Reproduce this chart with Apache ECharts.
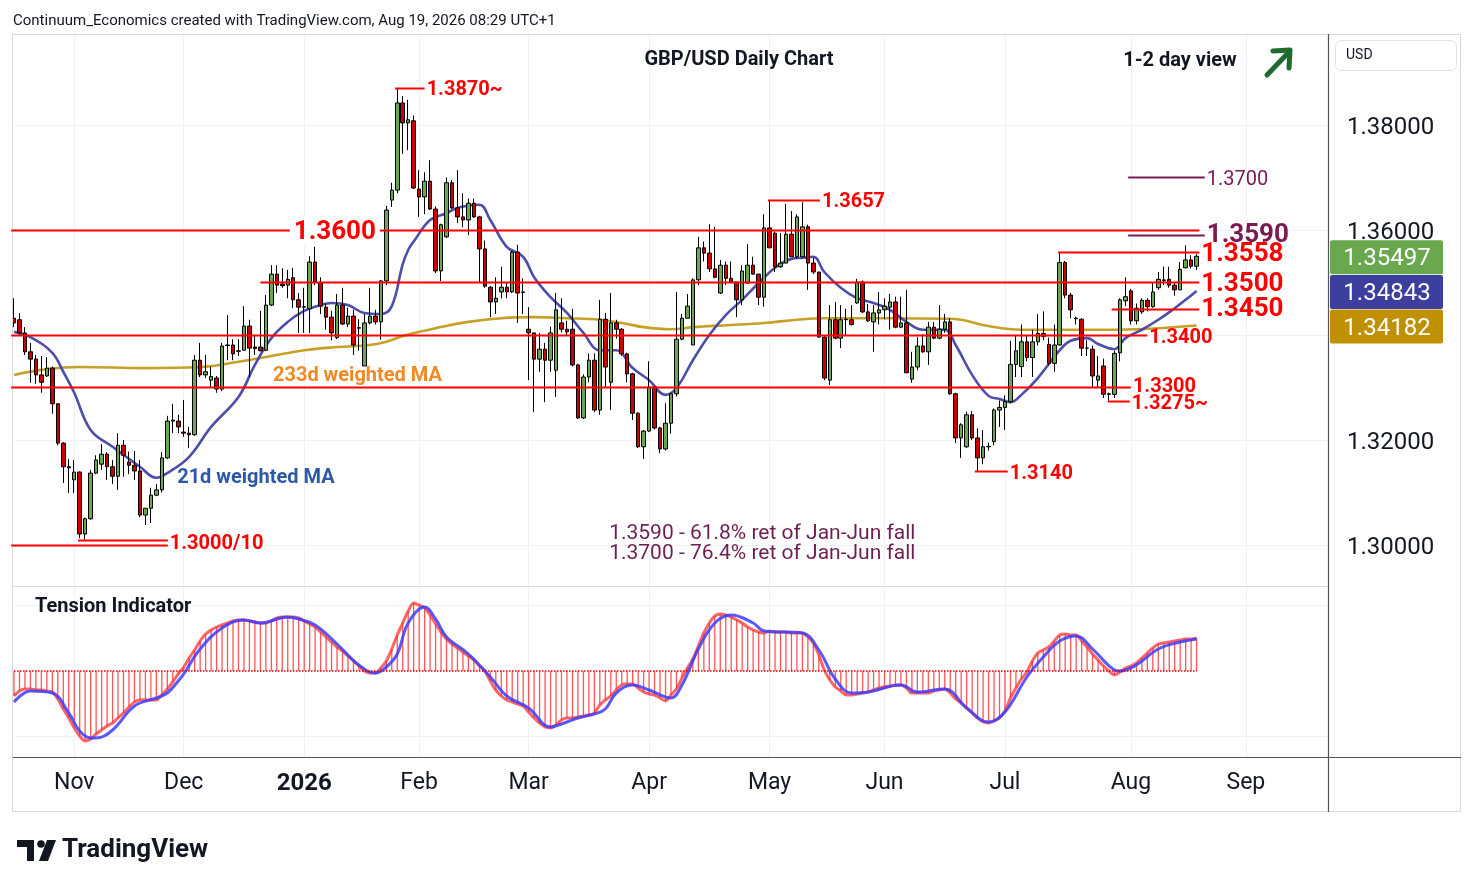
<!DOCTYPE html>
<html><head><meta charset="utf-8">
<script src="https://cdn.jsdelivr.net/npm/echarts@6/dist/echarts.min.js"></script>
<style>html,body{margin:0;padding:0;background:#fff;}#c{width:1474px;height:887px;}</style>
</head><body><div id="c"></div>
<script>
// ---------- data ----------
const startDate = '2025-10-17';
const holidays = ['2025-12-25', '2026-01-01'];
const totalSlots = 241;
const monthNames = ['2026','Feb','Mar','Apr','May','Jun','Jul','Aug','Sep','Oct','Nov','Dec'];
const yTicks = [1.30, 1.32, 1.34, 1.36, 1.38];
const yTickLabels = [1.30, 1.32, 1.36, 1.38]; // 1.34000 sits under the MA price tag

// [open, close, low, high]
const ohlc = [
[1.3432,1.3423,1.3415,1.3470],[1.3429,1.3404,1.3398,1.3442],[1.3404,1.3368,1.3362,1.3415],[1.3368,1.3354,1.3309,1.3385],
[1.3354,1.3324,1.3307,1.3362],[1.3324,1.3310,1.3290,1.3360],[1.3322,1.3337,1.3320,1.3358],[1.3337,1.3269,1.3250,1.3340],
[1.3269,1.3194,1.3190,1.3270],[1.3194,1.3149,1.3118,1.3196],[1.3149,1.3147,1.3099,1.3164],[1.3124,1.3139,1.3099,1.3162],
[1.3139,1.3021,1.3013,1.3140],[1.3021,1.3050,1.3010,1.3052],[1.3050,1.3137,1.3048,1.3143],[1.3137,1.3162,1.3135,1.3171],
[1.3154,1.3173,1.3143,1.3192],[1.3173,1.3149,1.3124,1.3177],[1.3149,1.3131,1.3116,1.3162],[1.3131,1.3190,1.3105,1.3213],
[1.3190,1.3171,1.3130,1.3200],[1.3158,1.3152,1.3135,1.3178],[1.3152,1.3141,1.3124,1.3179],[1.3141,1.3057,1.3053,1.3162],
[1.3057,1.3070,1.3038,1.3070],[1.3070,1.3095,1.3042,1.3109],[1.3095,1.3105,1.3093,1.3116],[1.3105,1.3166,1.3100,1.3177],
[1.3166,1.3236,1.3164,1.3246],[1.3236,1.3238,1.3213,1.3269],[1.3236,1.3225,1.3213,1.3248],[1.3215,1.3213,1.3206,1.3276],
[1.3213,1.3210,1.3185,1.3225],[1.3210,1.3352,1.3208,1.3362],[1.3352,1.3324,1.3320,1.3385],[1.3324,1.3330,1.3318,1.3362],
[1.3314,1.3321,1.3300,1.3340],[1.3318,1.3297,1.3290,1.3322],[1.3297,1.3379,1.3293,1.3385],[1.3381,1.3380,1.3352,1.3438],
[1.3381,1.3364,1.3352,1.3392],[1.3370,1.3369,1.3360,1.3392],[1.3371,1.3417,1.3370,1.3455],[1.3417,1.3375,1.3320,1.3429],
[1.3377,1.3374,1.3362,1.3400],[1.3377,1.3370,1.3369,1.3446],[1.3371,1.3457,1.3369,1.3476],[1.3457,1.3516,1.3455,1.3533],
[1.3516,1.3495,1.3480,1.3533],[1.3497,1.3494,1.3490,1.3527],[1.3495,1.3506,1.3470,1.3524],[1.3509,1.3467,1.3451,1.3528],
[1.3467,1.3453,1.3404,1.3480],[1.3454,1.3453,1.3404,1.3490],[1.3450,1.3539,1.3404,1.3550],[1.3539,1.3501,1.3495,1.3568],
[1.3499,1.3455,1.3440,1.3510],[1.3453,1.3434,1.3410,1.3460],[1.3434,1.3404,1.3390,1.3446],[1.3395,1.3457,1.3392,1.3478],
[1.3457,1.3421,1.3419,1.3490],[1.3421,1.3436,1.3415,1.3452],[1.3436,1.3381,1.3362,1.3448],[1.3413,1.3414,1.3370,1.3430],
[1.3341,1.3423,1.3341,1.3440],[1.3423,1.3436,1.3420,1.3490],[1.3436,1.3425,1.3420,1.3448],[1.3425,1.3503,1.3391,1.3505],
[1.3503,1.3638,1.3495,1.3646],[1.3657,1.3676,1.3644,1.3690],[1.3676,1.3842,1.3670,1.3869],[1.3842,1.3804,1.3745,1.3855],
[1.3804,1.3810,1.3752,1.3848],[1.3808,1.3680,1.3678,1.3818],[1.3678,1.3663,1.3625,1.3714],[1.3663,1.3693,1.3630,1.3710],
[1.3693,1.3640,1.3638,1.3733],[1.3640,1.3522,1.3518,1.3645],[1.3522,1.3610,1.3503,1.3612],[1.3587,1.3690,1.3585,1.3700],
[1.3690,1.3642,1.3640,1.3695],[1.3642,1.3625,1.3613,1.3714],[1.3625,1.3619,1.3605,1.3670],[1.3619,1.3651,1.3590,1.3660],
[1.3651,1.3625,1.3623,1.3660],[1.3625,1.3564,1.3499,1.3627],[1.3564,1.3493,1.3490,1.3580],[1.3491,1.3463,1.3434,1.3493],
[1.3463,1.3470,1.3440,1.3510],[1.3482,1.3491,1.3470,1.3530],[1.3491,1.3482,1.3470,1.3500],[1.3482,1.3558,1.3480,1.3560],
[1.3558,1.3480,1.3423,1.3572],[1.3482,1.3481,1.3440,1.3508],[1.3411,1.3404,1.3314,1.3453],[1.3404,1.3354,1.3253,1.3404],
[1.3354,1.3373,1.3330,1.3404],[1.3373,1.3352,1.3272,1.3385],[1.3352,1.3404,1.3330,1.3416],[1.3333,1.3448,1.3282,1.3480],
[1.3423,1.3411,1.3405,1.3470],[1.3411,1.3406,1.3399,1.3427],[1.3411,1.3343,1.3340,1.3450],[1.3343,1.3242,1.3240,1.3345],
[1.3242,1.3320,1.3240,1.3325],[1.3320,1.3352,1.3310,1.3365],[1.3352,1.3257,1.3253,1.3365],[1.3257,1.3430,1.3248,1.3467],
[1.3430,1.3339,1.3300,1.3442],[1.3310,1.3423,1.3257,1.3480],[1.3423,1.3411,1.3393,1.3429],[1.3411,1.3364,1.3360,1.3413],
[1.3364,1.3326,1.3310,1.3366],[1.3326,1.3251,1.3238,1.3328],[1.3251,1.3187,1.3185,1.3253],[1.3187,1.3217,1.3164,1.3219],
[1.3217,1.3301,1.3215,1.3350],[1.3301,1.3223,1.3220,1.3303],[1.3223,1.3183,1.3175,1.3225],[1.3183,1.3232,1.3180,1.3270],
[1.3232,1.3288,1.3212,1.3290],[1.3288,1.3392,1.3283,1.3482],[1.3392,1.3432,1.3390,1.3440],[1.3432,1.3455,1.3432,1.3478],
[1.3381,1.3505,1.3381,1.3508],[1.3505,1.3566,1.3495,1.3587],[1.3566,1.3556,1.3540,1.3578],[1.3556,1.3526,1.3520,1.3611],
[1.3526,1.3510,1.3508,1.3606],[1.3480,1.3533,1.3478,1.3543],[1.3533,1.3508,1.3495,1.3540],[1.3508,1.3501,1.3500,1.3540],
[1.3501,1.3467,1.3434,1.3501],[1.3467,1.3522,1.3457,1.3533],[1.3499,1.3533,1.3498,1.3573],[1.3533,1.3516,1.3515,1.3549],
[1.3516,1.3472,1.3457,1.3516],[1.3472,1.3604,1.3454,1.3630],[1.3604,1.3566,1.3566,1.3657],[1.3594,1.3530,1.3520,1.3597],
[1.3530,1.3537,1.3528,1.3594],[1.3537,1.3592,1.3537,1.3650],[1.3592,1.3549,1.3549,1.3636],[1.3549,1.3625,1.3545,1.3630],
[1.3549,1.3606,1.3548,1.3653],[1.3606,1.3537,1.3486,1.3610],[1.3537,1.3520,1.3516,1.3547],[1.3520,1.3396,1.3395,1.3520],
[1.3396,1.3318,1.3314,1.3400],[1.3314,1.3429,1.3305,1.3457],[1.3429,1.3394,1.3392,1.3463],[1.3394,1.3429,1.3375,1.3457],
[1.3429,1.3430,1.3400,1.3450],[1.3429,1.3420,1.3418,1.3457],[1.3461,1.3501,1.3459,1.3507],[1.3501,1.3444,1.3442,1.3504],
[1.3444,1.3427,1.3425,1.3459],[1.3425,1.3442,1.3368,1.3457],[1.3442,1.3448,1.3420,1.3482],[1.3448,1.3455,1.3430,1.3470],
[1.3453,1.3463,1.3410,1.3478],[1.3463,1.3415,1.3413,1.3473],[1.3415,1.3423,1.3413,1.3473],[1.3423,1.3328,1.3328,1.3486],
[1.3316,1.3339,1.3309,1.3368],[1.3339,1.3379,1.3333,1.3396],[1.3379,1.3368,1.3366,1.3402],[1.3368,1.3415,1.3343,1.3425],
[1.3415,1.3394,1.3392,1.3425],[1.3394,1.3411,1.3392,1.3457],[1.3411,1.3425,1.3404,1.3440],[1.3425,1.3288,1.3286,1.3432],
[1.3288,1.3204,1.3194,1.3290],[1.3204,1.3229,1.3166,1.3232],[1.3187,1.3248,1.3185,1.3254],[1.3248,1.3204,1.3200,1.3255],
[1.3204,1.3166,1.3140,1.3222],[1.3166,1.3187,1.3154,1.3219],[1.3187,1.3188,1.3180,1.3195],[1.3197,1.3257,1.3190,1.3260],
[1.3257,1.3262,1.3225,1.3275],[1.3262,1.3273,1.3219,1.3285],[1.3273,1.3344,1.3270,1.3389],[1.3344,1.3370,1.3320,1.3400],
[1.3340,1.3387,1.3320,1.3420],[1.3387,1.3357,1.3350,1.3400],[1.3357,1.3387,1.3320,1.3410],[1.3387,1.3403,1.3380,1.3440],
[1.3403,1.3397,1.3390,1.3445],[1.3382,1.3346,1.3342,1.3395],[1.3346,1.3381,1.3330,1.3420],[1.3381,1.3538,1.3380,1.3558],
[1.3538,1.3476,1.3470,1.3541],[1.3476,1.3448,1.3432,1.3480],[1.3432,1.3431,1.3420,1.3435],[1.3430,1.3375,1.3360,1.3432],
[1.3375,1.3375,1.3360,1.3390],[1.3373,1.3322,1.3300,1.3380],[1.3314,1.3322,1.3300,1.3360],[1.3341,1.3287,1.3280,1.3355],
[1.3287,1.3288,1.3275,1.3290],[1.3287,1.3365,1.3280,1.3370],[1.3366,1.3467,1.3350,1.3470],[1.3465,1.3473,1.3455,1.3510],
[1.3484,1.3427,1.3420,1.3488],[1.3427,1.3451,1.3420,1.3460],[1.3444,1.3466,1.3440,1.3470],[1.3466,1.3454,1.3445,1.3470],
[1.3454,1.3482,1.3452,1.3500],[1.3490,1.3506,1.3486,1.3520],[1.3505,1.3504,1.3495,1.3530],[1.3506,1.3495,1.3490,1.3530],
[1.3495,1.3486,1.3475,1.3500],[1.3486,1.3525,1.3486,1.3539],[1.3528,1.3543,1.3527,1.3571],[1.3543,1.3531,1.3527,1.3552],
[1.3531,1.3550,1.3524,1.3554]
];

// 21d weighted MA, read at selected bars
const ma21Idx = [0,3,7,9,11,14,18,23,26,28,32,36,41,44,47,50,53,56,58,61,64,67,69,71,72,73,76,79,81,85,87,90,93,95,98,101,104,107,110,113,116,119,121,124,127,130,133,136,139,142,144,146,148,151,154,157,160,163,166,170,172,175,178,180,182,184,187,191,193,196,198,201,203,206,209,212,214,216];
const ma21Val = [1.3406,1.3396,1.3366,1.3330,1.3290,1.3219,1.3187,1.3149,1.3128,1.3137,1.3168,1.3225,1.3282,1.3343,1.3394,1.3425,1.3446,1.3457,1.3461,1.3457,1.3442,1.3440,1.3455,1.3535,1.3562,1.3578,1.3619,1.3632,1.3642,1.3648,1.3619,1.3568,1.3549,1.3510,1.3472,1.3442,1.3404,1.3371,1.3371,1.3337,1.3314,1.3286,1.3299,1.3352,1.3400,1.3438,1.3467,1.3499,1.3528,1.3545,1.3547,1.3549,1.3520,1.3490,1.3470,1.3461,1.3448,1.3425,1.3410,1.3410,1.3381,1.3324,1.3284,1.3278,1.3272,1.3286,1.3318,1.3371,1.3389,1.3394,1.3383,1.3373,1.3394,1.3410,1.3429,1.3451,1.3467,1.3484];

// 233d weighted MA, read at selected bars
const ma233Idx = [0,6,12,24,34,41,47,53,59,65,68,71,74,77,83,89,95,101,107,111,115,120,124,131,137,143,148,160,170,173,178,184,196,205,216];
const ma233Val = [1.3324,1.3335,1.3339,1.3337,1.3339,1.3349,1.3360,1.3371,1.3377,1.3381,1.3387,1.3398,1.3406,1.3413,1.3425,1.3432,1.3434,1.3432,1.3429,1.3423,1.3415,1.3411,1.3415,1.3419,1.3423,1.3429,1.3432,1.3432,1.3431,1.3429,1.3417,1.3410,1.3410,1.3411,1.3418];

// Tension indicator (one value per bar)
const tension = [
-25,-20,-18,-18,-19,-19,-20,-21,-28,-38,-47,-57,-65,-70,-68,-63,-59,-55,-52,-47,
-42,-36,-31,-29,-29,-29,-29,-24,-18,-11,-3,4,13,21,30,37,41,44,46,48,
50,51,51,50,49,48,48,50,53,54,54,54,53,50,47,44,39,34,29,24,
20,15,10,5,0,-2,-2,3,10,22,36,48,60,68,66,63,56,47,39,32,
27,23,19,15,11,5,0,-10,-19,-25,-29,-31,-33,-35,-41,-47,-52,-56,-57,-54,
-49,-47,-47,-46,-45,-44,-42,-34,-29,-25,-19,-14,-13,-13,-17,-21,-23,-24,-27,-30,
-24,-18,-7,3,12,25,38,48,55,57,56,54,51,48,44,41,39,38,40,39,
39,39,38,38,38,34,28,16,1,-9,-16,-20,-24,-24,-23,-22,-21,-19,-17,-16,
-15,-14,-14,-17,-22,-22,-22,-22,-20,-19,-18,-22,-28,-32,-37,-42,-47,-51,-52,-50,
-47,-40,-27,-17,-8,-1,10,18,21,24,30,36,37,36,36,30,24,17,11,5,
0,-4,-1,3,5,8,13,18,23,27,28,29,30,31,32,32,33
];
// Tension signal line, read at selected bars
const sigIdx = [0,3,7,10,12,14,15,18,22,26,28,30,31,34,38,42,45,50,52,55,59,63,66,68,70,72,75,77,79,83,87,90,94,98,100,103,106,108,110,113,116,120,122,125,128,131,135,137,144,147,150,153,156,162,165,170,174,178,181,185,188,191,194,197,201,202,205,209,213,216];
const sigVal = [-31,-20,-22,-42,-60,-67,-67,-59,-35,-27,-22,-10,-3,22,43,51,48,54,52,46,27,6,-2,4,17,48,64,52,34,17,-6,-25,-37,-56,-53,-47,-43,-38,-22,-14,-19,-27,-14,22,48,56,48,40,38,21,-8,-22,-21,-14,-21,-18,-37,-51,-41,-6,14,30,35,22,1,0,6,22,29,32];

// ---------- build ----------
const categories = [];
(function(){
  const d = new Date(startDate + 'T00:00:00Z');
  while (categories.length < totalSlots) {
    const s = d.toISOString().slice(0,10), w = d.getUTCDay();
    if (w !== 0 && w !== 6 && holidays.indexOf(s) < 0) categories.push(s);
    d.setUTCDate(d.getUTCDate()+1);
  }
})();
const monthStart = new Set();
categories.forEach((c,i)=>{ if (i>0 && c.slice(5,7)!==categories[i-1].slice(5,7)) monthStart.add(i); });
const zip = (a,b)=>a.map((v,i)=>[v,b[i]]);
const lastIdx = ohlc.length-1;

const PX_TOP = 35, PX_MAIN_H = 550, PPU = 5250;
const yMin = 1.30 - (PX_TOP + PX_MAIN_H - 545)/PPU;
const yMax = 1.30 + (545 - PX_TOP)/PPU;

const FONT = 'Roboto, "Noto Sans", sans-serif';
const grid = '#eef1f6';

const chart = echarts.init(document.getElementById('c'));
chart.setOption({
  animation:false, backgroundColor:'#ffffff',
  textStyle:{fontFamily:FONT},
  grid:[
    {left:14,right:146,top:PX_TOP,height:PX_MAIN_H,outerBoundsMode:'none',containLabel:false},
    {left:14,right:146,top:588,height:169,outerBoundsMode:'none',containLabel:false}
  ],
  xAxis:[
    {type:'category',gridIndex:0,data:categories,boundaryGap:false,
     axisLine:{show:false},axisTick:{show:false},axisLabel:{show:false},
     splitLine:{show:true,interval:(i)=>monthStart.has(i),lineStyle:{color:grid,width:1}}},
    {type:'category',gridIndex:1,data:categories,boundaryGap:false,
     axisLine:{show:false},axisTick:{show:false},
     axisLabel:{interval:(i)=>monthStart.has(i),margin:15,fontSize:23,color:'#131722',fontFamily:FONT,
       formatter:(v)=>{const m=parseInt(v.slice(5,7),10); return m===1?'{b|2026}':monthNames[m-1];},
       rich:{b:{fontWeight:'bold',fontSize:24,color:'#131722',fontFamily:FONT}}},
     splitLine:{show:true,interval:(i)=>monthStart.has(i),lineStyle:{color:grid,width:1}}}
  ],
  yAxis:[
    {type:'value',gridIndex:0,position:'right',min:yMin,max:yMax,scale:true,
     axisLine:{show:false},axisTick:{show:false,customValues:yTicks},
     axisLabel:{customValues:yTickLabels,formatter:(v)=>'{p|'+v.toFixed(5)+'}',margin:19,
       rich:{p:{fontSize:24,color:'#131722',fontFamily:FONT,padding:[6,0,0,0]}}},
     splitLine:{show:true,lineStyle:{color:grid,width:1}}},
    {type:'value',gridIndex:1,position:'right',min:-86,max:83,
     axisLine:{show:false},axisTick:{show:false,customValues:[-65,66]},axisLabel:{show:false,customValues:[-65,66]},
     splitLine:{show:true,lineStyle:{color:grid,width:1}}}
  ],
  series:[
    {type:'line',name:'233d',xAxisIndex:0,yAxisIndex:0,data:zip(ma233Idx,ma233Val),smooth:0.4,symbol:'none',
     lineStyle:{color:'#c49b1c',width:2.6,opacity:0.95},z:2},
    {type:'line',name:'21d',xAxisIndex:0,yAxisIndex:0,data:zip(ma21Idx,ma21Val),smooth:0.4,symbol:'none',
     lineStyle:{color:'#4343a6',width:2.6,opacity:0.95},z:2},
    {type:'candlestick',xAxisIndex:0,yAxisIndex:0,data:ohlc,barWidth:4,clip:true,z:3,
     itemStyle:{color:'#6aa84f',color0:'#cc0000',borderColor:'#000000',borderColor0:'#000000',borderWidth:1}},
    {type:'bar',xAxisIndex:1,yAxisIndex:1,data:tension,barWidth:1.3,itemStyle:{color:'rgba(255,30,30,0.75)'},z:2,
     markLine:{silent:true,symbol:'none',label:{show:false},lineStyle:{type:'dotted',color:'#e00000',width:1.5},
       data:[[{coord:[0,0]},{coord:[lastIdx,0]}]]}},
    {type:'line',xAxisIndex:1,yAxisIndex:1,data:tension,smooth:0.3,symbol:'none',
     lineStyle:{color:'rgba(255,50,50,0.75)',width:3},z:3},
    {type:'line',xAxisIndex:1,yAxisIndex:1,data:zip(sigIdx,sigVal),smooth:0.4,symbol:'none',
     lineStyle:{color:'rgba(60,60,255,0.85)',width:3},z:4}
  ]
});

// ---------- annotations (positioned through the chart's own scales) ----------
const xa = chart.convertToPixel({xAxisIndex:0}, categories[0]);
const xb = chart.convertToPixel({xAxisIndex:0}, categories[1]);
const xAt = (i)=> xa + (xb-xa)*i;
const yAt = (p)=> chart.convertToPixel({yAxisIndex:0}, p);

const RED='#ff0000', PUR='#7a1a52';
const TY = 2; // text baseline compensation
const G=[];
function L(x1,y1,x2,y2,c,w,z){G.push({type:'line',silent:true,z:z||40,shape:{x1,y1,x2,y2},style:{stroke:c,lineWidth:w}});}
function T(x,y,t,font,fill,align,va,z){G.push({type:'text',silent:true,z:z||45,x,y:y+TY,style:{text:t,font,fill,textAlign:align||'left',textVerticalAlign:va||'middle'}});}
function R(x,y,w,h,fill,stroke,r,z){G.push({type:'rect',silent:true,z:z||44,shape:{x,y,width:w,height:h,r:r||0},style:{fill:fill||'none',stroke:stroke||null,lineWidth:1}});}

// level lines: [price, fromIdx, toIdx, color, width]
const levels = [
  [1.3600,-0.5,216.5,RED,2],[1.3500,45,216.5,RED,2],[1.3400,-0.5,207,RED,2],[1.3300,-0.5,204,RED,2],
  [1.3870,69.6,75,RED,2],[1.3657,137.7,147.2,RED,2],[1.3558,190.7,216.5,RED,2],[1.3450,200.5,216.5,RED,2],
  [1.3275,199.8,203.8,RED,2],[1.3140,175.5,181.5,RED,2],[1.3000,-0.5,28.1,RED,2],[1.3010,11.7,28.1,RED,2],
  [1.3590,203.5,217.5,PUR,2],[1.3700,203.5,217.5,PUR,2]
];
levels.forEach(l=>{const y=Math.round(yAt(l[0]))+0.5; L(xAt(l[1]),y,xAt(l[2]),y,l[3],l[4]);});

const big = 'bold 26px '+FONT, small = 'bold 20px '+FONT;
// labels: [text, price, anchorIdx, font, color, dy]
const lbls = [
  ['1.3870~',1.3870,75,small,RED,0],['1.3657',1.3657,147.2,small,RED,0],
  ['1.3700',1.3700,217.5,'20px '+FONT,PUR,0],['1.3590',1.3590,217.5,big,PUR,-2],
  ['1.3558',1.3558,216.5,big,RED,0],['1.3500',1.3500,216.5,big,RED,0],['1.3450',1.3450,216.5,big,RED,-1],
  ['1.3400',1.3400,207,small,RED,1],['1.3300',1.3300,204,small,RED,-3],['1.3275~',1.3275,203.8,small,RED,1],
  ['1.3140',1.3140,181.5,small,RED,0],['1.3000/10',1.3000,28.1,small,RED,-3]
];
lbls.forEach(l=>T(xAt(l[2])+2, yAt(l[1])+l[5], l[0], l[3], l[4]));
// 1.3600 label sitting on its line
(function(){const cx=xAt(58.6), cy=yAt(1.3600); R(cx-45,cy-14,90,28,'#ffffff',null,0,43); T(cx,cy,'1.3600',big,RED,'center');})();

T(xAt(47.3), yAt(1.3326), '233d weighted MA', 'bold 20px '+FONT, '#f08a24');
T(xAt(29.8), yAt(1.3131), '21d weighted MA', 'bold 20px '+FONT, '#2d58a8');
T(xAt(108.7), yAt(1.30248), '1.3590 - 61.8% ret of Jan-Jun fall', '21px '+FONT, '#6e1f52');
T(xAt(108.7), yAt(1.29867), '1.3700 - 76.4% ret of Jan-Jun fall', '21px '+FONT, '#6e1f52');

// frame and panes
R(12.5,34.5,1448,777,'none','#d6d9e0',0,30);
L(13,586.5,1328,586.5,'#d6d9e0',1,30);
L(13,757.5,1461,757.5,'#50535e',1.2,30);
L(1328.5,34,1328.5,812,'#50535e',1.2,30);

// header texts
T(13,19,'Continuum_Economics created with TradingView.com, Aug 19, 2026 08:29 UTC+1','15px '+FONT,'#131722');
T(739,58,'GBP/USD Daily Chart','bold 20px '+FONT,'#131722','center');
T(1180,59,'1-2 day view','bold 20px '+FONT,'#131722','center');
// green arrow
G.push({type:'polyline',silent:true,z:46,shape:{points:[[1267,75],[1289,52]]},style:{stroke:'#1d6b2f',lineWidth:5,lineCap:'round'}});
G.push({type:'polyline',silent:true,z:46,shape:{points:[[1273,51],[1290,50],[1289,68]]},style:{stroke:'#1d6b2f',lineWidth:5,lineCap:'round',lineJoin:'round',fill:'none'}});
T(35,605,'Tension Indicator','bold 20px '+FONT,'#131722');

// USD box
R(1335.5,40.5,121,30,'#ffffff','#e0e3eb',6,46);
T(1346,53,'USD','14px '+FONT,'#131722','left','middle',48);

// price tags on the axis
const tags = [[ohlc[lastIdx][1],'#6aa84f'],[ma21Val[ma21Val.length-1],'#3c3f9e'],[ma233Val[ma233Val.length-1],'#bf9000']];
const tagTxt = ['1.35497','1.34843','1.34182'];
let prevY = -1e9;
tags.forEach((t,k)=>{let y=yAt(t[0])+1; if (y<prevY+34) y=prevY+34; prevY=y;
  R(1330,y-17,113,34,t[1],null,2,47); T(1387,y,tagTxt[k],'24px '+FONT,'#ffffff','center','middle',48);});

// TradingView logo
R(17,840,17,7,'#131722',null,0,46); R(27,840,7,21,'#131722',null,0,46);
G.push({type:'circle',silent:true,z:46,shape:{cx:41,cy:844,r:3.8},style:{fill:'#131722'}});
G.push({type:'polygon',silent:true,z:46,shape:{points:[[47,840],[56,840],[48,861],[39,861]]},style:{fill:'#131722'}});
T(62,848,'TradingView','bold 26px '+FONT,'#131722');

chart.setOption({graphic:G});
</script>
</body></html>
